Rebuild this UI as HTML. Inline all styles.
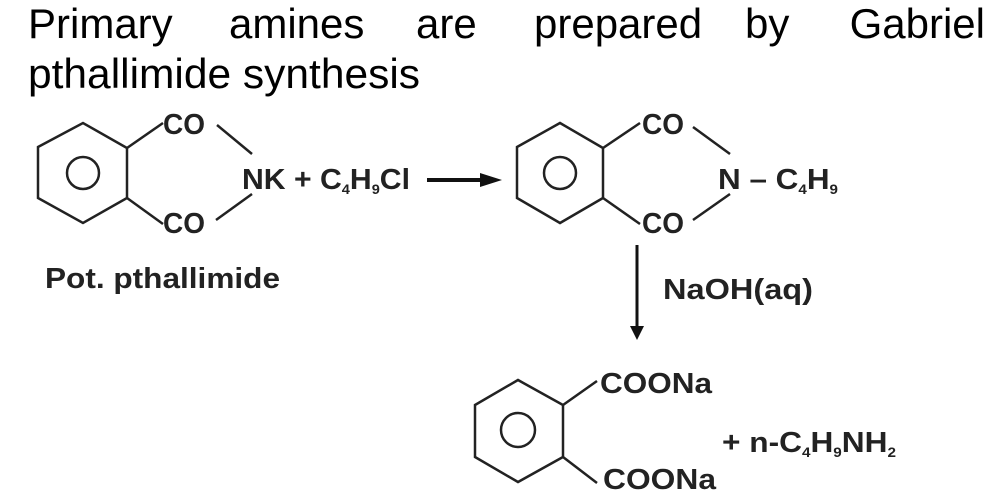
<!DOCTYPE html>
<html><head><meta charset="utf-8"><style>
html,body{margin:0;padding:0;background:#fff;width:1005px;height:502px;overflow:hidden}
svg{display:block}
.h{font-family:"Liberation Sans",Arial,sans-serif;font-size:42px;fill:#000}
.c{font-family:"Liberation Sans",Arial,sans-serif;font-size:29px;font-weight:bold;fill:#222}
.s{font-size:14px}
</style></head><body>
<svg width="1005" height="502" viewBox="0 0 1005 502">
<text class="h" x="28" y="38">Primary</text>
<text class="h" x="229" y="38">amines</text>
<text class="h" x="416" y="38">are</text>
<text class="h" x="534" y="38">prepared</text>
<text class="h" x="745" y="38">by</text>
<text class="h" x="985" y="38" text-anchor="end">Gabriel</text>
<text class="h" x="28" y="88" textLength="392" lengthAdjust="spacingAndGlyphs">pthallimide synthesis</text>
<g fill="none" stroke="#222" stroke-width="2.5">
<polygon points="38,147 83,123 127,148 127,198 83,223 38,198"/>
<circle cx="83" cy="173" r="16"/>
<line x1="127" y1="148" x2="163" y2="123"/>
<line x1="127" y1="198" x2="163" y2="224"/>
<line x1="217" y1="125" x2="252" y2="154"/>
<line x1="216" y1="220" x2="252" y2="194"/>
<polygon points="517,147 560,123 603,148 603,198 560,223 517,198"/>
<circle cx="560" cy="173" r="16"/>
<line x1="603" y1="148" x2="640" y2="123"/>
<line x1="603" y1="198" x2="640" y2="224"/>
<line x1="693" y1="127" x2="730" y2="154"/>
<line x1="693" y1="220" x2="730" y2="194"/>
<polygon points="475,405 518,380 563,405 563,457 518,482 475,457"/>
<circle cx="518" cy="430" r="17"/>
<line x1="563" y1="405" x2="597" y2="381"/>
<line x1="563" y1="457" x2="597" y2="483"/>
</g>
<line x1="427" y1="180" x2="490" y2="180" stroke="#111" stroke-width="4"/>
<polygon points="480,173 502,180 480,187" fill="#111"/>
<line x1="637" y1="245" x2="637" y2="330" stroke="#111" stroke-width="3"/>
<polygon points="630,326 637,340 644,326" fill="#111"/>
<text class="c" x="163" y="134" textLength="42" lengthAdjust="spacingAndGlyphs">CO</text>
<text class="c" x="163" y="233" textLength="42" lengthAdjust="spacingAndGlyphs">CO</text>
<text class="c" x="242" y="189" textLength="168" lengthAdjust="spacingAndGlyphs">NK + C<tspan class="s" dy="5">4</tspan><tspan dy="-5">H</tspan><tspan class="s" dy="5">9</tspan><tspan dy="-5">Cl</tspan></text>
<text class="c" x="45" y="288" textLength="235" lengthAdjust="spacingAndGlyphs">Pot. pthallimide</text>
<text class="c" x="642" y="134" textLength="42" lengthAdjust="spacingAndGlyphs">CO</text>
<text class="c" x="642" y="233" textLength="42" lengthAdjust="spacingAndGlyphs">CO</text>
<text class="c" x="718" y="189" textLength="120" lengthAdjust="spacingAndGlyphs">N – C<tspan class="s" dy="5">4</tspan><tspan dy="-5">H</tspan><tspan class="s" dy="5">9</tspan></text>
<text class="c" x="663" y="299" textLength="150" lengthAdjust="spacingAndGlyphs">NaOH(aq)</text>
<text class="c" x="600" y="393" textLength="112" lengthAdjust="spacingAndGlyphs">COONa</text>
<text class="c" x="603" y="489" textLength="113" lengthAdjust="spacingAndGlyphs">COONa</text>
<text class="c" x="722" y="452" textLength="174" lengthAdjust="spacingAndGlyphs">+ n-C<tspan class="s" dy="5">4</tspan><tspan dy="-5">H</tspan><tspan class="s" dy="5">9</tspan><tspan dy="-5">NH</tspan><tspan class="s" dy="5">2</tspan></text>
</svg>
</body></html>
